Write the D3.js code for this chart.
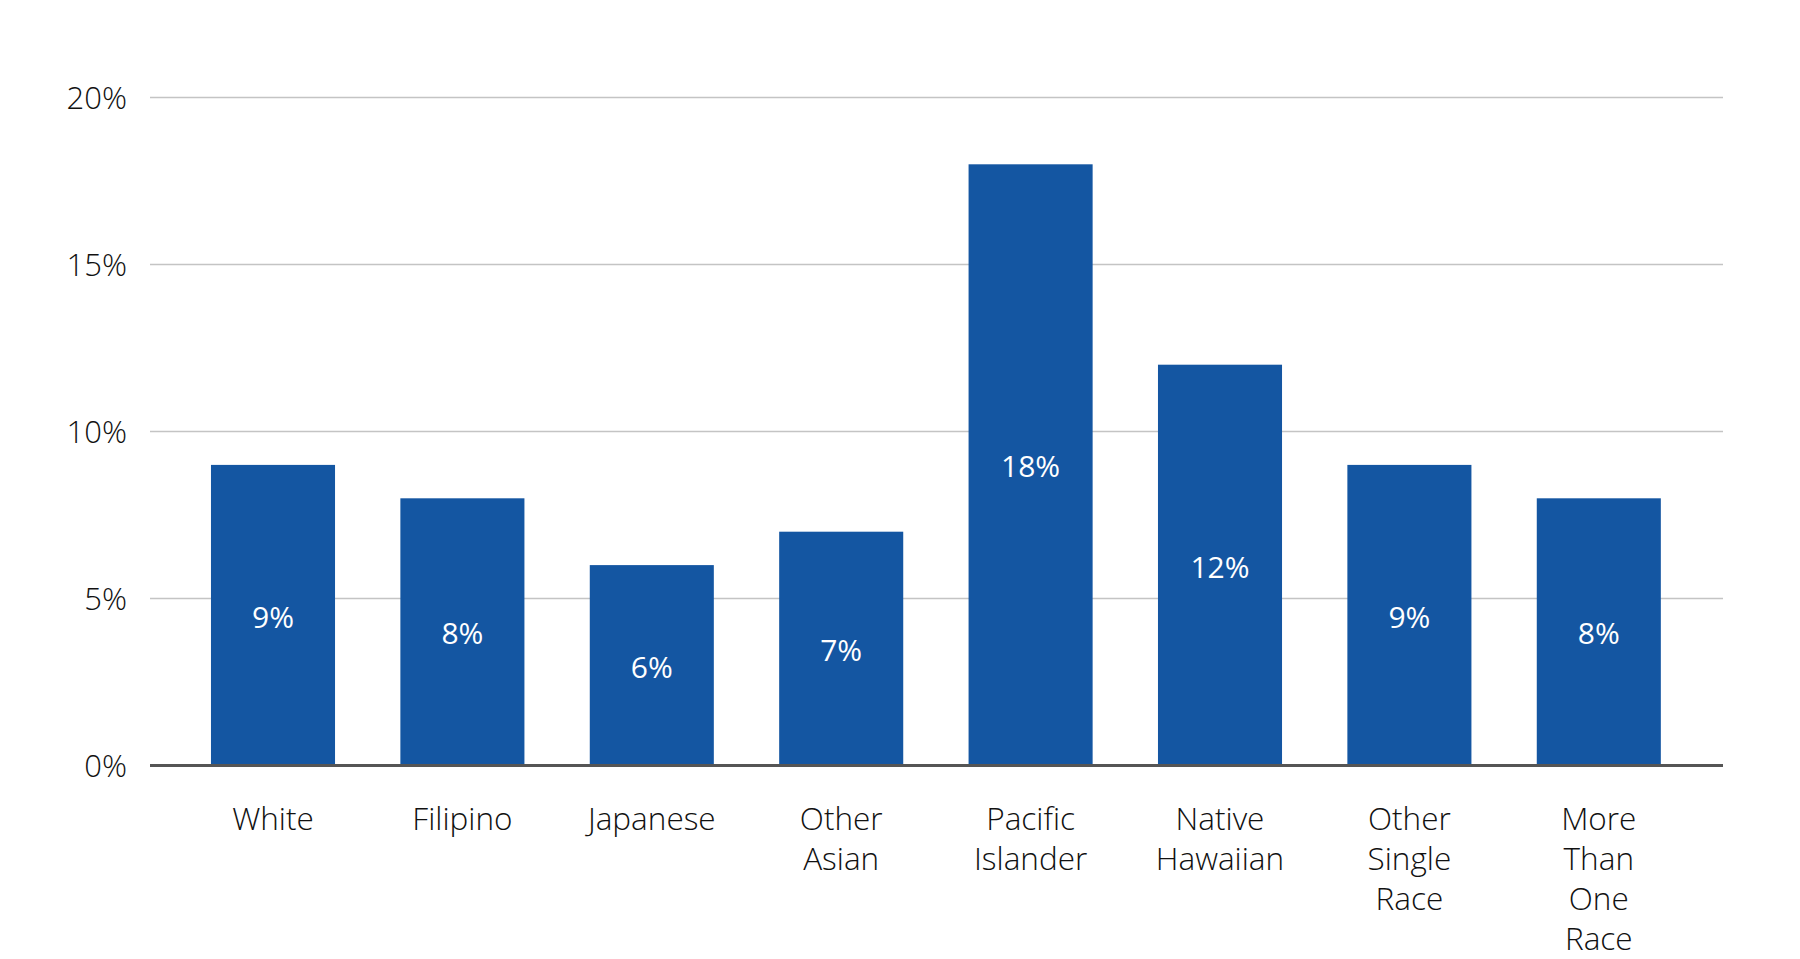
<!DOCTYPE html>
<html>
<head>
<meta charset="utf-8">
<script src="https://cdn.jsdelivr.net/npm/d3@7"></script>
<style>
  html, body { margin: 0; padding: 0; background: #fff; }
  svg { display: block; }
</style>
</head>
<body>
<svg id="chart" width="1800" height="959"></svg>
<script>
const categories = ["White", "Filipino", "Japanese", "Other Asian", "Pacific Islander", "Native Hawaiian", "Other Single Race", "More Than One Race"];
const categoryLines = [["White"], ["Filipino"], ["Japanese"], ["Other", "Asian"], ["Pacific", "Islander"], ["Native", "Hawaiian"], ["Other", "Single", "Race"], ["More", "Than", "One", "Race"]];
const values = [9, 8, 6, 7, 18, 12, 9, 8];
const yTicks = [0, 5, 10, 15, 20];

const svg = d3.select("#chart");
const font = "'Open Sans', 'Noto Sans', sans-serif";

const x = d3.scaleBand()
  .domain(categories)
  .range([178.3, 1693.5])
  .paddingInner(0.345)
  .paddingOuter(0.1725);

const y = d3.scaleLinear().domain([0, 20]).range([765.5, 97.5]);

const gridLeft = 150, gridRight = 1723;

// gridlines
svg.append("g").selectAll("line")
  .data(yTicks.filter(d => d > 0))
  .join("line")
  .attr("x1", gridLeft).attr("x2", gridRight)
  .attr("y1", d => y(d)).attr("y2", d => y(d))
  .attr("stroke", "#c4c4c4")
  .attr("stroke-width", 1.6);

// y tick labels
svg.append("g").selectAll("text")
  .data(yTicks)
  .join("text")
  .attr("x", 127)
  .attr("y", d => y(d) + 1)
  .attr("dy", "0.35em")
  .attr("text-anchor", "end")
  .attr("font-family", font)
  .attr("font-weight", 300)
  .attr("font-size", 31)
  .attr("fill", "#111")
  .text(d => d + "%");

// bars
svg.append("g").selectAll("rect")
  .data(values)
  .join("rect")
  .attr("x", (d, i) => x(categories[i]))
  .attr("y", d => y(d))
  .attr("width", x.bandwidth())
  .attr("height", d => y(0) - y(d))
  .attr("fill", "#1456a2");

// value labels
svg.append("g").selectAll("text")
  .data(values)
  .join("text")
  .attr("x", (d, i) => x(categories[i]) + x.bandwidth() / 2)
  .attr("y", d => (y(d) + y(0)) / 2 + 2)
  .attr("dy", "0.35em")
  .attr("text-anchor", "middle")
  .attr("font-family", font)
  .attr("font-weight", 500)
  .attr("font-size", 30)
  .attr("fill", "#fff")
  .text(d => d + "%");

// baseline axis
svg.append("line")
  .attr("x1", gridLeft).attr("x2", gridRight)
  .attr("y1", y(0)).attr("y2", y(0))
  .attr("stroke", "#555")
  .attr("stroke-width", 3);

// x labels
const xl = svg.append("g").selectAll("text")
  .data(categories)
  .join("text")
  .attr("x", d => x(d) + x.bandwidth() / 2)
  .attr("y", 830)
  .attr("text-anchor", "middle")
  .attr("font-family", font)
  .attr("font-weight", 300)
  .attr("font-size", 31.5)
  .attr("fill", "#111");

xl.each(function(d, i) {
  const t = d3.select(this);
  categoryLines[i].forEach((line, j) => {
    t.append("tspan")
      .attr("x", x(d) + x.bandwidth() / 2)
      .attr("dy", j === 0 ? 0 : 40)
      .text(line);
  });
});
</script>
</body>
</html>
